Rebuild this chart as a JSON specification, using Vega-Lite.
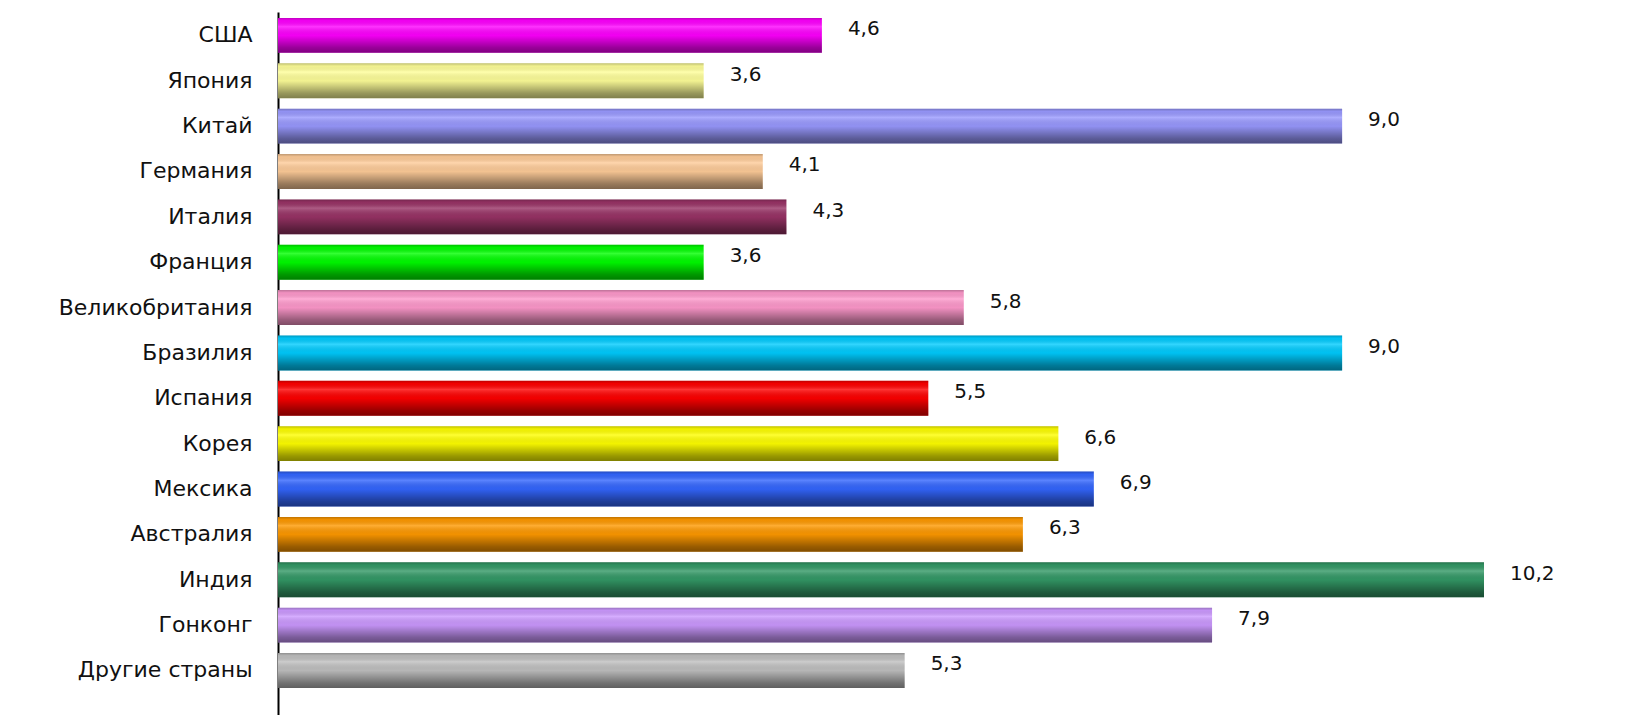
{
  "$schema": "https://vega.github.io/schema/vega-lite/v6.json",
  "autosize": "none",
  "width": 1206,
  "height": 703,
  "padding": {"left": 278, "top": 12, "right": 145, "bottom": 0},
  "background": "white",
  "config": {
    "view": {"stroke": null},
    "locale": {"number": {"decimal": ",", "thousands": " ", "grouping": [3], "currency": ["", ""]}},
    "font": "DejaVu Sans"
  },
  "data": {
    "values": [
      {"country": "США", "value": 4.6, "color": "#FF00FF"},
      {"country": "Япония", "value": 3.6, "color": "#FFFF99"},
      {"country": "Китай", "value": 9.0, "color": "#9999FF"},
      {"country": "Германия", "value": 4.1, "color": "#FFCC99"},
      {"country": "Италия", "value": 4.3, "color": "#993366"},
      {"country": "Франция", "value": 3.6, "color": "#00FF00"},
      {"country": "Великобритания", "value": 5.8, "color": "#FF99CC"},
      {"country": "Бразилия", "value": 9.0, "color": "#00CCFF"},
      {"country": "Испания", "value": 5.5, "color": "#FF0000"},
      {"country": "Корея", "value": 6.6, "color": "#FFFF00"},
      {"country": "Мексика", "value": 6.9, "color": "#3366FF"},
      {"country": "Австралия", "value": 6.3, "color": "#FF9900"},
      {"country": "Индия", "value": 10.2, "color": "#339966"},
      {"country": "Гонконг", "value": 7.9, "color": "#CC99FF"},
      {"country": "Другие страны", "value": 5.3, "color": "#C0C0C0"}
    ]
  },
  "encoding": {
    "y": {
      "field": "country",
      "type": "nominal",
      "sort": null,
      "scale": {"paddingInner": 0.23, "paddingOuter": 0.364, "align": 0.18},
      "axis": {
        "title": null,
        "ticks": false,
        "domainColor": "#000000",
        "domainWidth": 2,
        "labelFontSize": 22,
        "labelFont": "DejaVu Sans",
        "labelColor": "#111111",
        "labelPadding": 26,
        "labelLimit": 300
      }
    },
    "x": {
      "field": "value",
      "type": "quantitative",
      "scale": {"domain": [0, 10.2], "nice": false, "zero": true},
      "axis": null
    }
  },
  "layer": [
    {
      "mark": {"type": "bar"},
      "encoding": {"color": {"field": "color", "type": "nominal", "scale": null, "legend": null}}
    },
    {
      "mark": {
        "type": "bar",
        "color": {
          "gradient": "linear",
          "x1": 0, "y1": 0, "x2": 0, "y2": 1,
          "stops": [
            {"offset": 0, "color": "rgba(0,0,0,0.25)"},
            {"offset": 0.08, "color": "rgba(0,0,0,0.05)"},
            {"offset": 0.25, "color": "rgba(255,255,255,0.2)"},
            {"offset": 0.5, "color": "rgba(0,0,0,0.05)"},
            {"offset": 0.85, "color": "rgba(0,0,0,0.4)"},
            {"offset": 1, "color": "rgba(0,0,0,0.5)"}
          ]
        }
      }
    },
    {
      "mark": {"type": "text", "align": "left", "baseline": "middle", "dx": 26, "dy": -6, "fontSize": 20, "font": "DejaVu Sans", "color": "#111111"},
      "encoding": {"text": {"field": "value", "type": "quantitative", "format": ".1f"}}
    }
  ]
}
